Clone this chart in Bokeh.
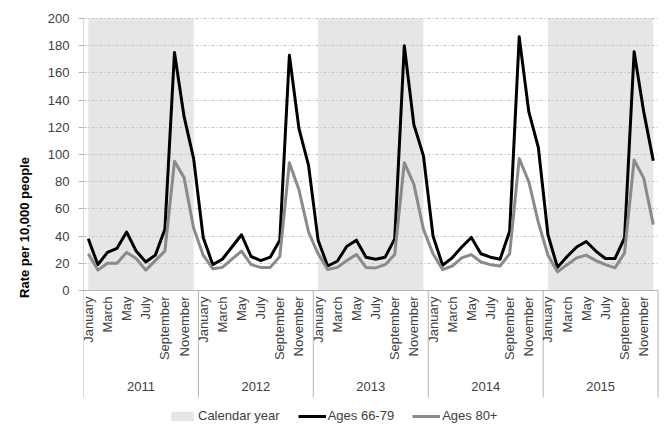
import math
from bokeh.plotting import figure
from bokeh.models import Range1d, FixedTicker, Title, Legend, LegendItem
from bokeh.core.properties import value
from bokeh.embed import file_html
from bokeh.resources import INLINE

# ---------------- data ----------------
years = ["2011", "2012", "2013", "2014", "2015"]
months = ["January", "February", "March", "April", "May", "June",
          "July", "August", "September", "October", "November", "December"]
labeled_months = ["January", "March", "May", "July", "September", "November"]
shaded_years = ["2011", "2013", "2015"]
y_ticks = [0, 20, 40, 60, 80, 100, 120, 140, 160, 180, 200]

ages_66_79 = [
    38, 19, 28, 31, 43, 29, 21, 26, 45, 175, 128, 97,        # 2011
    39, 19, 23, 32, 41, 25, 22, 24.5, 37, 173, 119, 92,      # 2012
    37, 18, 21.5, 32.5, 37, 24.5, 23, 24.5, 38, 180, 122, 99,  # 2013
    40, 18.6, 24, 32, 39, 27, 24.5, 23, 43.5, 186.5, 131.5, 105,  # 2014
    41, 17, 25, 32, 36, 29, 23.5, 23.5, 38.6, 175.5, 131.5, 95.4,  # 2015
]
ages_80 = [
    27, 15, 20, 20, 28, 23.5, 15, 22, 29, 95, 83, 46,
    26, 16, 17, 23, 29, 19, 17, 17, 25, 94, 74, 43,
    27, 15.5, 17, 22, 26.5, 17, 16.6, 19, 26.5, 94, 78, 45,
    27, 15.4, 18, 24, 26.4, 21, 19, 18, 27, 97, 80, 50,
    26, 13.7, 19, 24, 26, 22, 19, 16.6, 27.6, 96, 82.6, 48.4,
]

# ---------------- layout constants ----------------
PX_PER_UNIT = 1.36
FRAME_TOP, ZERO_Y, FRAME_BOTTOM = 17, 290, 437
Y_MIN = -(FRAME_BOTTOM - ZERO_Y) / PX_PER_UNIT
Y_MAX = 200 + (ZERO_Y - 200 * PX_PER_UNIT - FRAME_TOP) / PX_PER_UNIT
N = len(years) * len(months)
FONT = value("Liberation Sans")
TXT = "#404040"
AXIS = "#b4b4b4"

def ypx(py):
    return (ZERO_Y - py) / PX_PER_UNIT

p = figure(width=663, height=FRAME_BOTTOM, output_backend="svg", toolbar_location=None,
           x_range=Range1d(0, N + 0.15), y_range=Range1d(Y_MIN, Y_MAX),
           min_border_left=83, min_border_right=4, min_border_top=FRAME_TOP, min_border_bottom=0,
           background_fill_color="white", border_fill_color="white")
p.outline_line_color = None
p.xaxis.visible = False
p.xgrid.grid_line_color = None

# y axis
p.yaxis.ticker = FixedTicker(ticks=y_ticks)
p.yaxis.axis_line_color = None
p.yaxis.major_tick_line_color = AXIS
p.yaxis.major_tick_out = 5
p.yaxis.major_tick_in = 0
p.yaxis.minor_tick_line_color = None
p.yaxis.major_label_standoff = 9
p.yaxis.major_label_text_font = "Liberation Sans"
p.yaxis.major_label_text_font_size = "13px"
p.yaxis.major_label_text_color = TXT

p.ygrid.grid_line_color = "#c4c4c4"
p.ygrid.grid_line_dash = "3 2 1 2"
p.ygrid.grid_line_width = 1

# shading per calendar year
yi = [years.index(y) for y in shaded_years]
shade = p.quad(left=[i * 12 + 0.5 for i in yi], right=[i * 12 + 11.5 for i in yi],
               bottom=[0] * len(yi), top=[200] * len(yi),
               fill_color="#e6e6e6", line_color=None, level="image")

# lines
xs = [i + 0.5 for i in range(N)]
l1 = p.line(xs, ages_66_79, line_color="black", line_width=3, line_join="round")
l2 = p.line(xs, ages_80, line_color="#8a8a8a", line_width=3, line_join="round")

# category axis drawn by hand
sep_bottom = ypx(397)
sep_x = [i * 12 for i in range(len(years) + 1)]
p.segment(x0=sep_x, y0=[sep_bottom] * len(sep_x), x1=sep_x,
          y1=[200] + [0] * (len(sep_x) - 1), line_color=AXIS, line_width=1)
p.segment(x0=[0], y0=[0], x1=[N], y1=[0], line_color=AXIS, line_width=1)

mx, my, mt = [], [], []
for yidx in range(len(years)):
    for m in labeled_months:
        mx.append(yidx * 12 + months.index(m) + 0.5)
        my.append(ypx(296))
        mt.append(m)
p.text(x=mx, y=my, text=mt, angle=math.pi / 2, text_align="right", text_baseline="middle",
       text_font=FONT, text_font_size="13px", text_color=TXT)

p.text(x=[i * 12 + 6 for i in range(len(years))],
       y=[ypx(386)] * len(years), text=years,
       text_align="center", text_baseline="middle",
       text_font=FONT, text_font_size="13px", text_color=TXT)

# y axis title
p.add_layout(Title(text="Rate per 10,000 people", align="center", offset=50,
                   text_font="Liberation Sans", text_font_size="13px",
                   text_font_style="bold", text_color="black", standoff=26), "left")

legend = Legend(items=[LegendItem(label="Calendar year", renderers=[shade]),
                       LegendItem(label="Ages 66-79", renderers=[l1]),
                       LegendItem(label="Ages 80+", renderers=[l2])],
                orientation="horizontal", location=(85, 14),
                padding=0, margin=0, spacing=18, label_standoff=2,
                glyph_width=28, glyph_height=12, label_height=12,
                label_text_font="Liberation Sans", label_text_font_size="13px",
                label_text_color=TXT, background_fill_alpha=0, border_line_color=None)
p.add_layout(legend, "center")

open("out.html", "w").write(file_html(p, INLINE))
